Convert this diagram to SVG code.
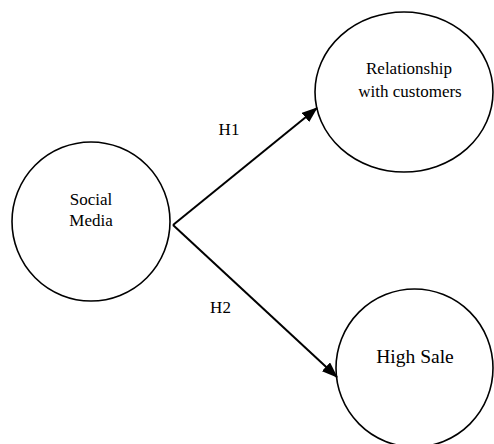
<svg xmlns="http://www.w3.org/2000/svg" width="494" height="444" viewBox="0 0 494 444">
<style>
.n{fill:#fff;stroke:#000;stroke-width:1.6}
.t{font-family:"Liberation Serif",serif;font-size:17px;fill:#000;text-anchor:middle}
.c{stroke:#000;stroke-width:2;fill:none}
</style>
<defs>
<marker id="ah" markerUnits="userSpaceOnUse" markerWidth="16" markerHeight="12" refX="15" refY="6" orient="auto">
<path d="M0,0 L16,6 L0,12 z" fill="#000"/>
</marker>
</defs>
<rect width="494" height="444" fill="#fff"/>
<g id="social-media">
<ellipse class="n" cx="91" cy="221.5" rx="79" ry="79.5"/>
<text class="t" x="91" y="205">Social</text>
<text class="t" x="91" y="226">Media</text>
</g>
<g id="relationship">
<ellipse class="n" cx="404" cy="92" rx="89" ry="80"/>
<text class="t" x="409" y="74">Relationship</text>
<text class="t" x="410" y="97">with customers</text>
</g>
<g id="high-sale">
<ellipse class="n" cx="414.5" cy="368" rx="78.5" ry="79"/>
<text class="t" x="415" y="363" style="font-size:19.5px">High Sale</text>
</g>
<g id="connectors">
<line class="c" x1="173" y1="225" x2="317" y2="108" marker-end="url(#ah)"/>
<line class="c" x1="173" y1="225" x2="337" y2="377" marker-end="url(#ah)"/>
</g>
<g id="labels">
<text class="t" x="229" y="135">H1</text>
<text class="t" x="220.5" y="313">H2</text>
</g>
</svg>
